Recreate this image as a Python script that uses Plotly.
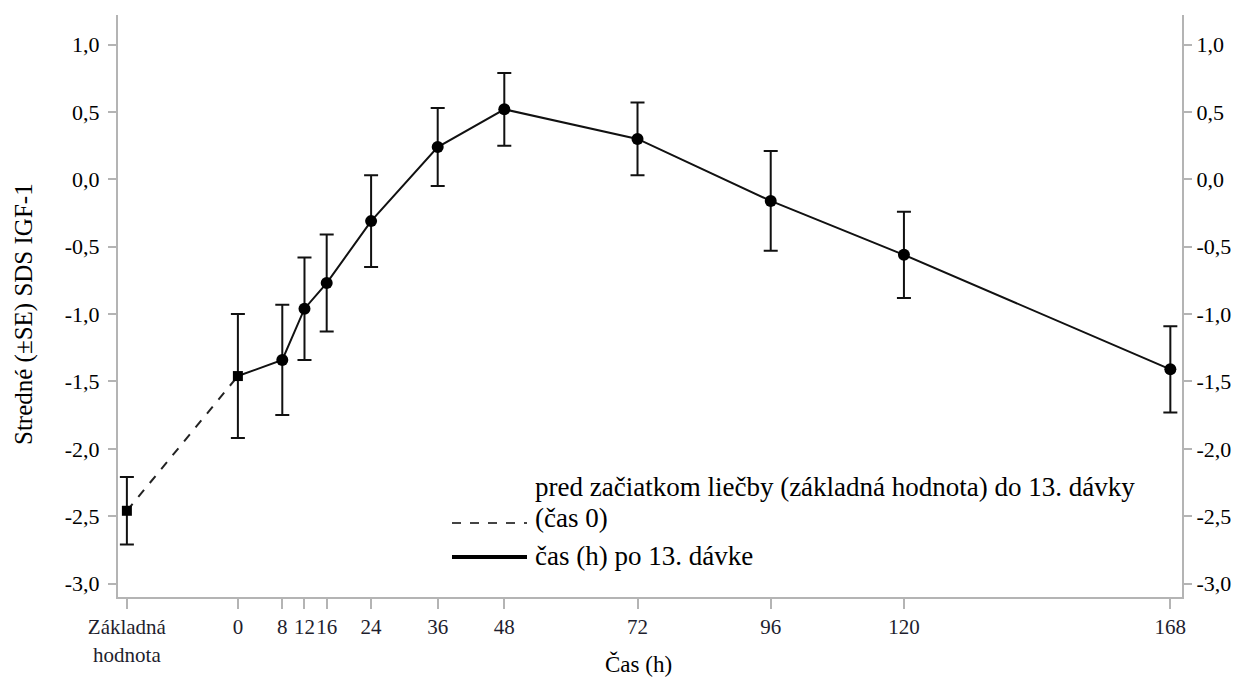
import plotly.graph_objects as go

# Data
base_x = [-20]
base_y = [-2.46]
base_err = [0.25]

hours = [0, 8, 12, 16, 24, 36, 48, 72, 96, 120, 168]
means = [-1.46, -1.34, -0.96, -0.77, -0.31, 0.24, 0.52, 0.30, -0.16, -0.56, -1.41]
se = [0.46, 0.41, 0.38, 0.36, 0.34, 0.29, 0.27, 0.27, 0.37, 0.32, 0.32]

tick_vals = [-20, 0, 8, 12, 16, 24, 36, 48, 72, 96, 120, 168]
tick_text = ["Základná<br>hodnota", "0", "8", "12", "16", "24", "36", "48", "72", "96", "120", "168"]
y_ticks = [1.0, 0.5, 0.0, -0.5, -1.0, -1.5, -2.0, -2.5, -3.0]
y_text = ["1,0", "0,5", "0,0", "-0,5", "-1,0", "-1,5", "-2,0", "-2,5", "-3,0"]

legend_dash_l1 = "pred začiatkom liečby (základná hodnota) do 13. dávky"
legend_dash_l2 = "(čas 0)"
legend_solid = "čas (h) po 13. dávke"
x_title = "Čas (h)"
y_title = "Stredné (±SE) SDS IGF-1"

FONT = "Liberation Serif"
AX = "#b4b4b4"
W, H = 1237, 679
L, R, T, B = 118, 55, 15, 82
PW, PH = W - L - R, H - T - B


def px(x):
    return (x - L) / PW


def py(y):
    return (H - B - y) / PH


fig = go.Figure()

fig.add_trace(go.Scatter(x=[base_x[0], hours[0]], y=[base_y[0], means[0]], mode="lines",
                         line=dict(color="#222", width=2, dash="dash"), showlegend=False,
                         hoverinfo="skip"))
fig.add_trace(go.Scatter(x=hours, y=means, mode="lines",
                         line=dict(color="#111", width=2), showlegend=False))
fig.add_trace(go.Scatter(x=base_x + hours[:1], y=base_y + means[:1], mode="markers",
                         marker=dict(symbol="square", size=10, color="#000"),
                         error_y=dict(type="data", array=base_err + se[:1], color="#111",
                                      thickness=2, width=7),
                         showlegend=False))
fig.add_trace(go.Scatter(x=hours[1:], y=means[1:], mode="markers",
                         marker=dict(symbol="circle", size=12, color="#000"),
                         error_y=dict(type="data", array=se[1:], color="#111",
                                      thickness=2, width=7),
                         showlegend=False))
fig.add_trace(go.Scatter(x=hours[:1], y=means[:1], yaxis="y2", mode="markers",
                         marker=dict(opacity=0), showlegend=False, hoverinfo="skip"))

# legend (drawn manually)
fig.add_shape(type="line", xref="paper", yref="paper", x0=px(452), x1=px(527), y0=py(523), y1=py(523),
              line=dict(color="#444", width=2, dash="dash"))
fig.add_shape(type="line", xref="paper", yref="paper", x0=px(452), x1=px(527), y0=py(557), y1=py(557),
              line=dict(color="#000", width=4))
for txt, yc in [(legend_dash_l1, 487), (legend_dash_l2, 518), (legend_solid, 556)]:
    fig.add_annotation(xref="paper", yref="paper", x=px(533), y=py(yc), text=txt,
                       showarrow=False, xanchor="left", yanchor="middle", align="left",
                       font=dict(family=FONT, size=27, color="#000"))

# axis titles
fig.add_annotation(xref="paper", yref="paper", x=px(638), y=py(664), text=x_title,
                   showarrow=False, xanchor="center", yanchor="middle",
                   font=dict(family=FONT, size=23, color="#000"))
fig.add_annotation(xref="paper", yref="paper", x=px(24), y=py(314), text=y_title, textangle=-90,
                   showarrow=False, xanchor="center", yanchor="middle",
                   font=dict(family=FONT, size=25, color="#000"))

fig.update_layout(
    width=W, height=H,
    margin=dict(l=L, r=R, t=T, b=B, autoexpand=False),
    paper_bgcolor="white", plot_bgcolor="white",
    font=dict(family=FONT, size=21, color="#000"),
    showlegend=False,
    xaxis=dict(range=[-21.6, 170.1], tickvals=tick_vals, ticktext=tick_text, automargin=False,
               tickangle=0,
               showgrid=False, zeroline=False, showline=True, linecolor=AX, linewidth=2,
               ticks="outside", ticklen=10, tickcolor=AX, tickwidth=2,
               tickfont=dict(family=FONT, size=21, color="#1e1e2e")),
    yaxis=dict(range=[-3.10, 1.22], tickvals=y_ticks, ticktext=y_text, automargin=False,
               showgrid=False, zeroline=False, showline=True, linecolor=AX, linewidth=2,
               ticks="outside", ticklen=8, tickcolor=AX, tickwidth=2, ticklabelstandoff=4,
               tickfont=dict(family=FONT, size=22)),
    yaxis2=dict(range=[-3.10, 1.22], tickvals=y_ticks, ticktext=y_text, overlaying="y", side="right",
                automargin=False,
                showgrid=False, zeroline=False, showline=True, linecolor=AX, linewidth=2,
                ticks="outside", ticklen=8, tickcolor=AX, tickwidth=2,
                tickfont=dict(family=FONT, size=22)),
)

fig.write_html("out.html", config={"displayModeBar": False},
               post_script="document.body.style.margin='0px';document.body.style.overflow='hidden';")
